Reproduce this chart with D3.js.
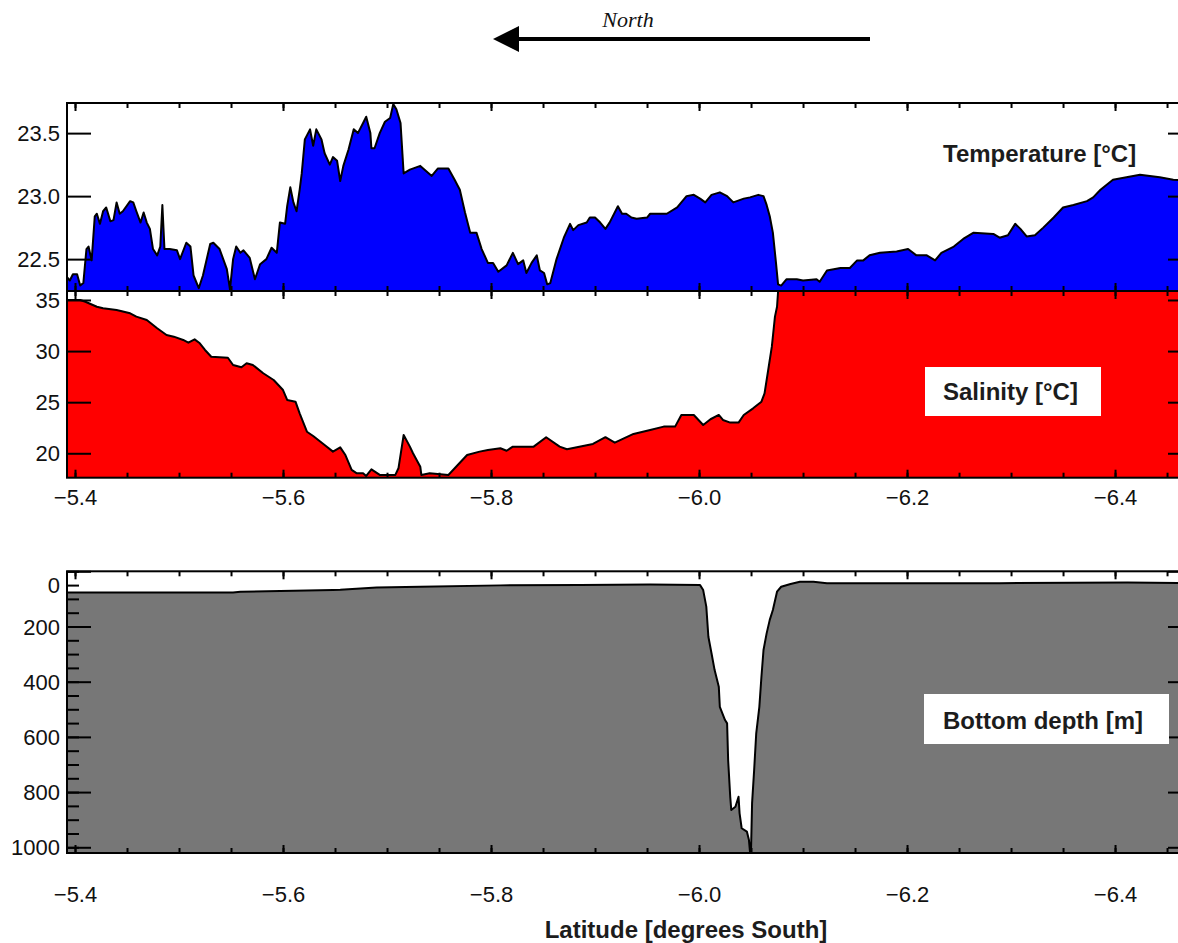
<!DOCTYPE html>
<html>
<head>
<meta charset="utf-8">
<script src="https://cdn.jsdelivr.net/npm/d3@7"></script>
<style>
  body { margin: 0; background: #fff; }
  svg { display: block; }
</style>
</head>
<body>
<div id="section"></div>
<script>
// Temperature [°C] along the transect, pairs of [latitude, value]
const temperature = [
  [-5.392, 22.36], [-5.395, 22.33], [-5.398, 22.38], [-5.402, 22.38], [-5.405, 22.29], [-5.408, 22.31],
  [-5.411, 22.58], [-5.413, 22.60], [-5.416, 22.49], [-5.419, 22.84], [-5.421, 22.86], [-5.424, 22.78],
  [-5.427, 22.88], [-5.430, 22.91], [-5.434, 22.80], [-5.437, 22.81], [-5.440, 22.95], [-5.443, 22.86],
  [-5.446, 22.88], [-5.453, 22.96], [-5.456, 22.95], [-5.459, 22.88], [-5.463, 22.79], [-5.466, 22.87],
  [-5.469, 22.79], [-5.472, 22.74], [-5.475, 22.58], [-5.479, 22.53], [-5.482, 22.60], [-5.484, 22.93],
  [-5.486, 22.58], [-5.491, 22.58], [-5.498, 22.57], [-5.501, 22.50], [-5.507, 22.63], [-5.511, 22.60],
  [-5.514, 22.37], [-5.519, 22.27], [-5.523, 22.37], [-5.530, 22.62], [-5.533, 22.63], [-5.539, 22.58],
  [-5.546, 22.42], [-5.549, 22.26], [-5.552, 22.50], [-5.555, 22.60], [-5.559, 22.55], [-5.562, 22.57],
  [-5.568, 22.51], [-5.573, 22.34], [-5.578, 22.46], [-5.584, 22.50], [-5.589, 22.59], [-5.594, 22.55],
  [-5.597, 22.79], [-5.602, 22.78], [-5.604, 22.92], [-5.607, 23.07], [-5.610, 22.95], [-5.613, 22.88],
  [-5.616, 23.05], [-5.618, 23.18], [-5.621, 23.45], [-5.626, 23.53], [-5.629, 23.40], [-5.632, 23.53],
  [-5.637, 23.45], [-5.640, 23.34], [-5.645, 23.25], [-5.648, 23.31], [-5.652, 23.28], [-5.655, 23.12],
  [-5.658, 23.24], [-5.663, 23.37], [-5.668, 23.53], [-5.672, 23.50], [-5.677, 23.58], [-5.680, 23.63],
  [-5.684, 23.50], [-5.685, 23.38], [-5.688, 23.38], [-5.693, 23.50], [-5.698, 23.59], [-5.703, 23.62],
  [-5.706, 23.73], [-5.709, 23.69], [-5.713, 23.58], [-5.716, 23.18], [-5.722, 23.21], [-5.732, 23.24],
  [-5.743, 23.16], [-5.749, 23.22], [-5.759, 23.22], [-5.765, 23.13], [-5.770, 23.05], [-5.775, 22.87],
  [-5.780, 22.71], [-5.786, 22.71], [-5.791, 22.58], [-5.797, 22.47], [-5.802, 22.47], [-5.807, 22.40],
  [-5.815, 22.45], [-5.821, 22.55], [-5.826, 22.46], [-5.831, 22.49], [-5.834, 22.39], [-5.839, 22.47],
  [-5.844, 22.53], [-5.847, 22.41], [-5.851, 22.39], [-5.854, 22.30], [-5.857, 22.31], [-5.863, 22.50],
  [-5.870, 22.67], [-5.876, 22.78], [-5.879, 22.73], [-5.884, 22.77], [-5.892, 22.79], [-5.895, 22.83],
  [-5.900, 22.83], [-5.905, 22.79], [-5.910, 22.74], [-5.914, 22.79], [-5.922, 22.92], [-5.926, 22.86],
  [-5.930, 22.86], [-5.935, 22.83], [-5.940, 22.82], [-5.950, 22.83], [-5.953, 22.86], [-5.969, 22.86],
  [-5.979, 22.91], [-5.988, 23.00], [-5.995, 23.01], [-6.001, 22.98], [-6.006, 22.95], [-6.012, 23.01],
  [-6.020, 23.03], [-6.027, 23.00], [-6.033, 22.95], [-6.043, 22.98], [-6.049, 22.99], [-6.057, 23.01],
  [-6.062, 23.00], [-6.065, 22.93], [-6.068, 22.84], [-6.071, 22.71], [-6.074, 22.47], [-6.076, 22.30],
  [-6.079, 22.29], [-6.084, 22.34], [-6.094, 22.34], [-6.100, 22.33], [-6.113, 22.34], [-6.116, 22.32],
  [-6.123, 22.41], [-6.136, 22.43], [-6.145, 22.43], [-6.152, 22.49], [-6.158, 22.49], [-6.164, 22.53],
  [-6.174, 22.55], [-6.190, 22.56], [-6.201, 22.58], [-6.209, 22.53], [-6.219, 22.53], [-6.227, 22.49],
  [-6.233, 22.55], [-6.245, 22.60], [-6.254, 22.66], [-6.264, 22.71], [-6.283, 22.70], [-6.289, 22.67],
  [-6.297, 22.69], [-6.304, 22.78], [-6.309, 22.74], [-6.315, 22.68], [-6.323, 22.69], [-6.331, 22.75],
  [-6.341, 22.83], [-6.350, 22.91], [-6.360, 22.93], [-6.373, 22.96], [-6.379, 22.99], [-6.386, 23.05],
  [-6.398, 23.13], [-6.411, 23.15], [-6.424, 23.17], [-6.443, 23.15], [-6.456, 23.13], [-6.474, 23.12]
];

// Salinity along the transect (values above 35.9 run off the top of the panel)
const salinity = [
  [-5.392, 35.00], [-5.405, 35.00], [-5.410, 34.83], [-5.421, 34.34], [-5.427, 34.19], [-5.440, 34.02],
  [-5.453, 33.70], [-5.459, 33.37], [-5.469, 33.04], [-5.479, 32.23], [-5.488, 31.58], [-5.495, 31.41],
  [-5.504, 31.09], [-5.509, 30.82], [-5.515, 31.15], [-5.520, 30.76], [-5.525, 30.11], [-5.531, 29.45],
  [-5.547, 29.35], [-5.552, 28.64], [-5.560, 28.41], [-5.565, 28.81], [-5.571, 28.64], [-5.581, 27.83],
  [-5.591, 27.17], [-5.600, 26.19], [-5.604, 25.22], [-5.612, 25.05], [-5.616, 23.91], [-5.623, 22.11],
  [-5.629, 21.69], [-5.640, 20.81], [-5.648, 20.16], [-5.655, 20.58], [-5.660, 19.83], [-5.666, 18.37],
  [-5.671, 18.04], [-5.677, 18.04], [-5.680, 17.78], [-5.685, 18.43], [-5.693, 17.88], [-5.708, 17.88],
  [-5.711, 18.53], [-5.716, 21.79], [-5.722, 20.65], [-5.725, 20.00], [-5.732, 18.69], [-5.733, 17.88],
  [-5.741, 18.04], [-5.759, 17.88], [-5.777, 19.83], [-5.789, 20.16], [-5.797, 20.32], [-5.809, 20.49],
  [-5.815, 20.25], [-5.821, 20.65], [-5.841, 20.65], [-5.853, 21.57], [-5.866, 20.65], [-5.873, 20.39],
  [-5.898, 20.91], [-5.910, 21.57], [-5.919, 21.04], [-5.937, 21.89], [-5.953, 22.28], [-5.966, 22.61],
  [-5.977, 22.61], [-5.983, 23.75], [-5.995, 23.75], [-6.004, 22.77], [-6.011, 23.33], [-6.019, 23.75],
  [-6.023, 23.26], [-6.030, 23.00], [-6.038, 23.00], [-6.043, 23.75], [-6.052, 24.40], [-6.060, 25.05],
  [-6.063, 25.87], [-6.067, 28.47], [-6.070, 30.43], [-6.073, 33.37], [-6.075, 34.34], [-6.076, 35.81],
  [-6.077, 36.20], [-6.200, 36.20], [-6.350, 36.20], [-6.474, 36.20]
];

// Bottom depth [m]
const bottomDepth = [
  [-5.392, 77], [-5.552, 77], [-5.559, 74], [-5.648, 68], [-5.655, 67], [-5.690, 59], [-5.732, 56],
  [-5.809, 51], [-5.886, 50], [-5.953, 48], [-6.001, 50], [-6.004, 68], [-6.007, 128], [-6.009, 237],
  [-6.012, 297], [-6.015, 358], [-6.019, 418], [-6.020, 491], [-6.025, 539], [-6.027, 551], [-6.028, 684],
  [-6.030, 817], [-6.031, 865], [-6.035, 853], [-6.038, 817], [-6.039, 877], [-6.041, 931], [-6.046, 943],
  [-6.048, 974], [-6.049, 1016], [-6.050, 1010], [-6.051, 841], [-6.053, 720], [-6.055, 587],
  [-6.058, 491], [-6.060, 382], [-6.062, 285], [-6.065, 225], [-6.068, 176], [-6.071, 140], [-6.075, 74],
  [-6.079, 56], [-6.088, 46], [-6.097, 38], [-6.110, 38], [-6.123, 43], [-6.193, 43], [-6.289, 43],
  [-6.412, 41], [-6.474, 43]
];

// tick values
const latMajor = [-5.4, -5.6, -5.8, -6.0, -6.2, -6.4];
const latMinor = d3.range(0, 22).map(i => -5.4 - i * 0.05);
const tempTicks = [22.5, 23.0, 23.5];
const salTicks = [20, 25, 30, 35];
const depthMajor = [0, 200, 400, 600, 800, 1000];
const depthMinor = d3.range(0, 21).map(i => i * 50);

const dims = { width: 1178, height: 943, left: 67, right: 1192 };

const svg = d3.select("#section")
  .append("svg")
  .attr("width", dims.width)
  .attr("height", dims.height)
  .style("font-family", "'Liberation Sans', Arial, sans-serif");

const x = d3.scaleLinear()
  .domain([-5.3923, -6.474])
  .range([dims.left, dims.right]);

const panels = [
  { id: "temp", top: 103, bottom: 291, domain: [22.247, 23.739], data: temperature, fill: "#0000ff",
    ticks: tempTicks, fmt: d3.format(".1f"), xLabels: false },
  { id: "sal", top: 291, bottom: 477.7, domain: [17.61, 35.88], data: salinity, fill: "#ff0000",
    ticks: salTicks, fmt: d3.format("d"), xLabels: true, labelPad: 12 },
  { id: "depth", top: 571.3, bottom: 853, domain: [1020.7, 0], data: bottomDepth, fill: "#777777",
    ticks: depthMajor, minor: depthMinor, fmt: d3.format("d"), xLabels: true, labelPad: 33 }
];

panels.forEach(p => {
  const y = d3.scaleLinear().domain(p.domain).range([p.bottom, p.top]);

  svg.append("clipPath")
    .attr("id", "clip-" + p.id)
    .append("rect")
    .attr("x", dims.left)
    .attr("y", p.top)
    .attr("width", dims.right - dims.left)
    .attr("height", p.bottom - p.top);

  const g = svg.append("g").attr("clip-path", `url(#clip-${p.id})`);

  // fill from the panel bottom up to the curve
  g.append("path")
    .datum(p.data)
    .attr("fill", p.fill)
    .attr("d", d3.area()
      .x(d => x(d[0]))
      .y0(p.bottom)
      .y1(d => y(d[1])));

  g.append("path")
    .datum(p.data)
    .attr("fill", "none")
    .attr("stroke", "#000")
    .attr("stroke-width", 2)
    .attr("stroke-linejoin", "round")
    .attr("d", d3.line()
      .x(d => x(d[0]))
      .y(d => y(d[1])));

  // frame
  svg.append("rect")
    .attr("x", dims.left)
    .attr("y", p.top)
    .attr("width", dims.right - dims.left)
    .attr("height", p.bottom - p.top)
    .attr("fill", "none")
    .attr("stroke", "#000")
    .attr("stroke-width", 2);

  // x ticks, inward on top and bottom
  const xTop = g2 => g2.attr("transform", `translate(0,${p.top})`);
  const xBottom = g2 => g2.attr("transform", `translate(0,${p.bottom})`);
  svg.append("g").call(xTop).call(d3.axisTop(x).tickValues(latMinor).tickSize(-5).tickFormat(""));
  svg.append("g").call(xTop).call(d3.axisTop(x).tickValues(latMajor).tickSize(-8).tickFormat(""));
  svg.append("g").call(xBottom).call(d3.axisBottom(x).tickValues(latMinor).tickSize(-5).tickFormat(""));
  svg.append("g").call(xBottom)
    .call(d3.axisBottom(x).tickValues(latMajor).tickSize(-8).tickPadding(p.labelPad || 0)
      .tickFormat(p.xLabels ? d3.format(".1f") : ""));

  // y ticks, left with labels, right without
  svg.append("g")
    .attr("transform", `translate(${dims.left},0)`)
    .call(d3.axisLeft(y).tickValues(p.ticks).tickSize(-24).tickPadding(7).tickFormat(p.fmt))
    .call(g2 => g2.selectAll(".tick text")
      .attr("dy", d => (p.id === "depth" && d === 0) ? "0.97em" : "0.35em"));
  svg.append("g")
    .attr("transform", `translate(${dims.right},0)`)
    .call(d3.axisRight(y).tickValues(p.ticks).tickSize(-24).tickFormat(""));
  if (p.minor) {
    svg.append("g")
      .attr("transform", `translate(${dims.left},0)`)
      .call(d3.axisLeft(y).tickValues(p.minor).tickSize(-12).tickFormat(""));
    svg.append("g")
      .attr("transform", `translate(${dims.right},0)`)
      .call(d3.axisRight(y).tickValues(p.minor).tickSize(-12).tickFormat(""));
  }
});

// axis styling
svg.selectAll(".domain").remove();
svg.selectAll(".tick line").attr("stroke", "#000").attr("stroke-width", 2);
svg.selectAll(".tick text")
  .attr("fill", "#111")
  .attr("font-size", 22)
  .attr("font-family", "'Liberation Sans', Arial, sans-serif");

// panel labels
svg.append("text")
  .attr("x", 943).attr("y", 162)
  .attr("font-size", 24).attr("font-weight", "bold").attr("fill", "#1c1c1c")
  .text("Temperature [°C]");

svg.append("rect")
  .attr("x", 925).attr("y", 367).attr("width", 176).attr("height", 49)
  .attr("fill", "#fff");
svg.append("text")
  .attr("x", 943).attr("y", 400)
  .attr("font-size", 24).attr("font-weight", "bold").attr("fill", "#1c1c1c")
  .text("Salinity [°C]");

svg.append("rect")
  .attr("x", 924).attr("y", 694).attr("width", 245).attr("height", 50)
  .attr("fill", "#fff");
svg.append("text")
  .attr("x", 943).attr("y", 729)
  .attr("font-size", 24).attr("font-weight", "bold").attr("fill", "#1c1c1c")
  .text("Bottom depth [m]");

// x axis title
svg.append("text")
  .attr("x", 686).attr("y", 938)
  .attr("text-anchor", "middle")
  .attr("font-size", 24).attr("font-weight", "bold").attr("fill", "#1c1c1c")
  .text("Latitude [degrees South]");

// North arrow, pointing left
svg.append("defs").append("marker")
  .attr("id", "head")
  .attr("viewBox", "0 0 10 10")
  .attr("refX", 0).attr("refY", 5)
  .attr("markerWidth", 6.5).attr("markerHeight", 6.5)
  .attr("markerUnits", "strokeWidth")
  .attr("orient", "auto")
  .append("path")
  .attr("d", "M0,0 L10,5 L0,10 Z")
  .attr("fill", "#000");

svg.append("line")
  .attr("x1", 870).attr("y1", 39)
  .attr("x2", 519).attr("y2", 39)
  .attr("stroke", "#000")
  .attr("stroke-width", 4)
  .attr("marker-end", "url(#head)");

svg.append("text")
  .attr("x", 628).attr("y", 27)
  .attr("text-anchor", "middle")
  .attr("font-family", "'Liberation Serif', 'Times New Roman', serif")
  .attr("font-style", "italic")
  .attr("font-size", 22)
  .attr("fill", "#111")
  .text("North");
</script>
</body>
</html>
